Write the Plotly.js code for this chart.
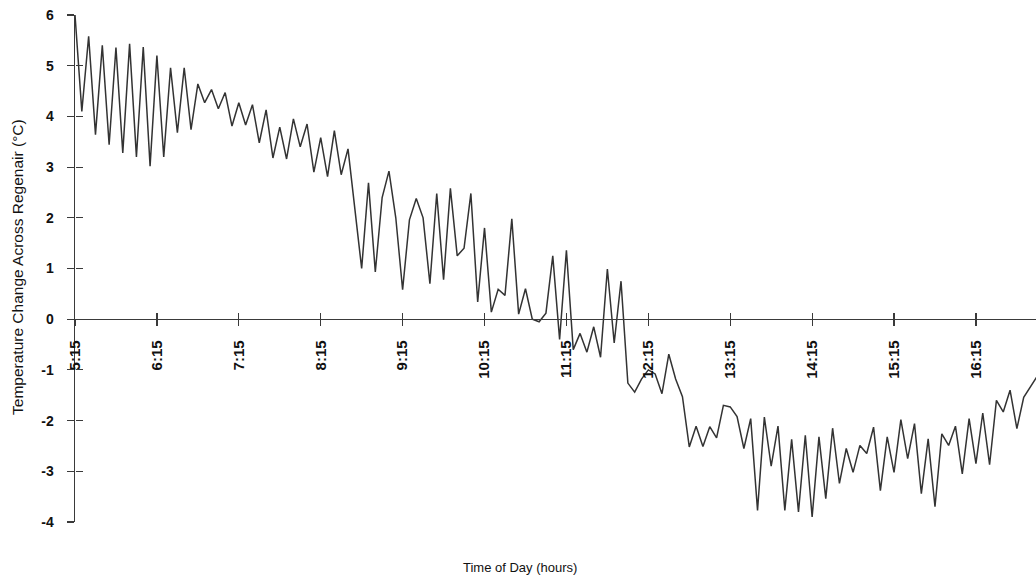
<!DOCTYPE html>
<html>
<head>
<meta charset="utf-8">
<script src="https://cdn.plot.ly/plotly-3.0.1.min.js"></script>
<style>
  html, body { margin: 0; padding: 0; background: #fff; }
  #chart { width: 1036px; height: 582px; }
</style>
</head>
<body>
<div id="chart"></div>
<script>
// Sample times (5-minute readings)
const times = [
  "05:15","05:20","05:25","05:30","05:35","05:40","05:45","05:50","05:55","06:00","06:05","06:10",
  "06:15","06:20","06:25","06:30","06:35","06:40","06:45","06:50","06:55","07:00","07:05","07:10",
  "07:15","07:20","07:25","07:30","07:35","07:40","07:45","07:50","07:55","08:00","08:05","08:10",
  "08:15","08:20","08:25","08:30","08:35","08:40","08:45","08:50","08:55","09:00","09:05","09:10",
  "09:15","09:20","09:25","09:30","09:35","09:40","09:45","09:50","09:55","10:00","10:05","10:10",
  "10:15","10:20","10:25","10:30","10:35","10:40","10:45","10:50","10:55","11:00","11:05","11:10",
  "11:15","11:20","11:25","11:30","11:35","11:40","11:45","11:50","11:55","12:00","12:05","12:10",
  "12:15","12:20","12:25","12:30","12:35","12:40","12:45","12:50","12:55","13:00","13:05","13:10",
  "13:15","13:20","13:25","13:30","13:35","13:40","13:45","13:50","13:55","14:00","14:05","14:10",
  "14:15","14:20","14:25","14:30","14:35","14:40","14:45","14:50","14:55","15:00","15:05","15:10",
  "15:15","15:20","15:25","15:30","15:35","15:40","15:45","15:50","15:55","16:00","16:05","16:10",
  "16:15","16:20","16:25","16:30","16:35","16:40","16:45","16:50","16:55","17:00"
];

// Temperature change across Regenair (°C)
const tempChange = [
  6.0, 4.1, 5.58, 3.64, 5.4, 3.44, 5.36, 3.28, 5.43, 3.2, 5.37, 3.02,
  5.2, 3.2, 4.96, 3.68, 4.96, 3.74, 4.64, 4.27, 4.53, 4.15, 4.47, 3.81,
  4.27, 3.83, 4.23, 3.48, 4.13, 3.18, 3.79, 3.16, 3.95, 3.4, 3.85, 2.9,
  3.58, 2.81, 3.72, 2.85, 3.36, 2.2, 1.0, 2.69, 0.93, 2.4, 2.92, 2.0,
  0.58, 1.96, 2.38, 2.0, 0.7, 2.48, 0.78, 2.58, 1.25, 1.4, 2.48, 0.34,
  1.8, 0.14, 0.59, 0.47, 1.98, 0.1, 0.6, 0.0, -0.05, 0.12, 1.25, -0.4,
  1.36, -0.6, -0.28, -0.65, -0.15, -0.75, 0.99, -0.47, 0.75, -1.26, -1.44, -1.18,
  -1.0, -1.08, -1.47, -0.69, -1.18, -1.53, -2.52, -2.11, -2.51, -2.12, -2.34, -1.7,
  -1.73, -1.92, -2.55, -1.96, -3.77, -1.93, -2.9, -2.11, -3.77, -2.37, -3.8, -2.29,
  -3.9, -2.32, -3.54, -2.15, -3.24, -2.55, -3.02, -2.49, -2.65, -2.13, -3.38, -2.32,
  -3.02, -1.98, -2.75, -2.06, -3.44, -2.36, -3.7, -2.26, -2.49, -2.11, -3.05, -1.96,
  -2.85, -1.85, -2.87, -1.6, -1.83, -1.4, -2.16, -1.54, -1.34, -1.12
];

// Axis ticks
const xTickTimes = ["05:15","06:15","07:15","08:15","09:15","10:15","11:15","12:15","13:15","14:15","15:15","16:15"];
const xTickLabels = ["5:15","6:15","7:15","8:15","9:15","10:15","11:15","12:15","13:15","14:15","15:15","16:15"];
const yTickValues = [-4, -3, -2, -1, 0, 1, 2, 3, 4, 5, 6];
const yTickLabels = ["-4", "-3", "-2", "-1", "0", "1", "2", "3", "4", "5", "6"];

const day = "2000-01-01 ";
const xStart = day + "05:15";
const xEnd = day + "16:59";
const yMin = -4, yMax = 6;
const zeroPos = (0 - yMin) / (yMax - yMin);

const xs = times.map(t => day + t);
const xTickVals = xTickTimes.map(t => day + t);

const txtColor = "#111111";
const axColor = "#3a3a3a";
const fontFam = "Arial, 'Liberation Sans', sans-serif";

const data = [
  {
    x: xs, y: tempChange, type: "scatter", mode: "lines",
    line: { color: "#333333", width: 1.5 },
    hoverinfo: "skip", showlegend: false
  },
  {
    x: [], y: [], type: "scatter", mode: "lines",
    xaxis: "x2", yaxis: "y2", hoverinfo: "skip", showlegend: false
  }
];

const layout = {
  width: 1036, height: 582,
  margin: { l: 75, r: 0, t: 15, b: 60 },
  paper_bgcolor: "#ffffff", plot_bgcolor: "#ffffff",
  font: { family: fontFam, color: txtColor },
  showlegend: false,
  xaxis: {
    type: "date", range: [xStart, xEnd],
    anchor: "free", position: zeroPos,
    showgrid: false, zeroline: false,
    showline: true, linecolor: axColor, linewidth: 1.2,
    tickmode: "array", tickvals: xTickVals, ticktext: xTickLabels,
    ticks: "outside", ticklen: 6, tickwidth: 1.2, tickcolor: axColor,
    tickangle: -90, ticklabelstandoff: 8,
    tickfont: { size: 15, color: txtColor, family: fontFam, weight: "bold" }
  },
  yaxis: {
    range: [yMin, yMax],
    showgrid: false, zeroline: false,
    showline: true, linecolor: axColor, linewidth: 1.5,
    tickmode: "array", tickvals: yTickValues, ticktext: yTickLabels,
    ticks: "outside", ticklen: 7, tickwidth: 1.2, tickcolor: axColor,
    ticklabelstandoff: 10,
    tickfont: { size: 14, color: txtColor, family: fontFam, weight: "bold" }
  },
  xaxis2: {
    type: "date", range: [xStart, xEnd],
    overlaying: "x", anchor: "free", position: zeroPos,
    showgrid: false, zeroline: false, showline: false,
    tickmode: "array", tickvals: xTickVals,
    ticks: "inside", ticklen: 6, tickwidth: 1.2, tickcolor: axColor,
    showticklabels: false
  },
  yaxis2: {
    range: [yMin, yMax],
    overlaying: "y", anchor: "free", position: 0, side: "left",
    showgrid: false, zeroline: false, showline: false,
    tickmode: "array", tickvals: yTickValues,
    ticks: "inside", ticklen: 7, tickwidth: 1.2, tickcolor: axColor,
    showticklabels: false
  },
  annotations: [
    {
      text: "Temperature Change Across Regenair (°C)",
      xref: "paper", yref: "paper", x: 0, y: 0.503,
      xanchor: "center", yanchor: "middle", xshift: -57,
      textangle: -90, showarrow: false,
      font: { size: 15.5, color: txtColor, family: fontFam }
    },
    {
      text: "Time of Day (hours)",
      xref: "paper", yref: "paper", x: 0.463, y: 0,
      xanchor: "center", yanchor: "middle", yshift: -45,
      showarrow: false,
      font: { size: 13, color: txtColor, family: fontFam }
    }
  ]
};

Plotly.newPlot("chart", data, layout, { staticPlot: true, displayModeBar: false });
</script>
</body>
</html>
